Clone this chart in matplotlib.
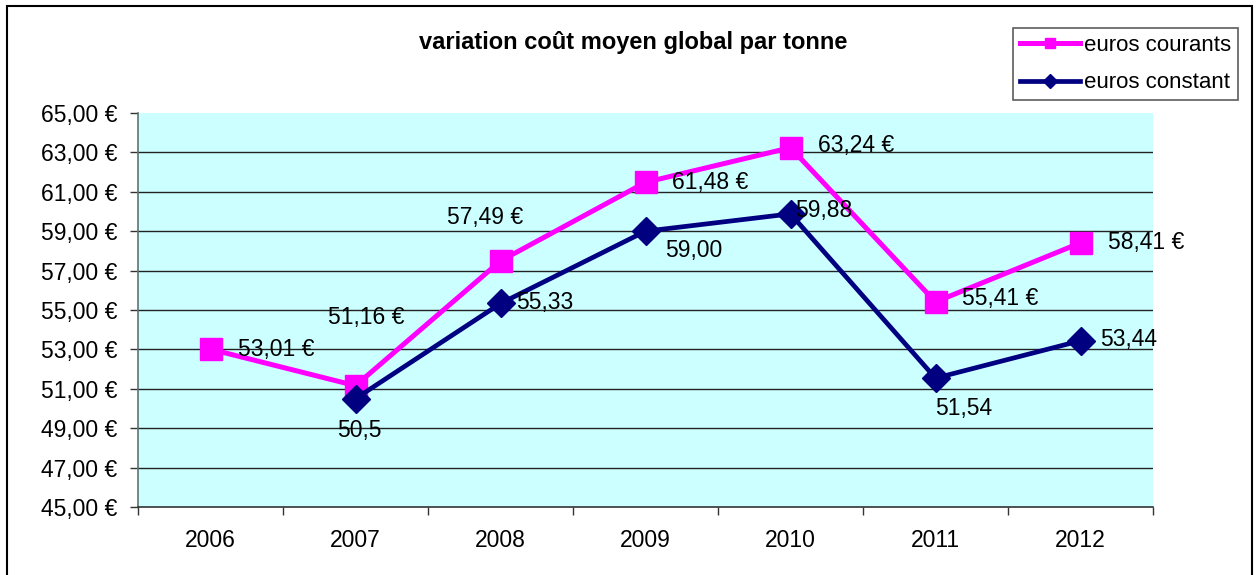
import matplotlib
matplotlib.use("Agg")
import matplotlib.pyplot as plt
from matplotlib.patches import Rectangle
from matplotlib.ticker import FixedLocator, FuncFormatter

plt.rcParams['font.family'] = ['Liberation Sans', 'DejaVu Sans']

years = ["2006", "2007", "2008", "2009", "2010", "2011", "2012"]
courants = [53.01, 51.16, 57.49, 61.48, 63.24, 55.41, 58.41]
constant = [None, 50.5, 55.33, 59.00, 59.88, 51.54, 53.44]
constant_labels = [None, "50,5", "55,33", "59,00", "59,88", "51,54", "53,44"]
yticks = [45, 47, 49, 51, 53, 55, 57, 59, 61, 63, 65]

W, H = 1257, 575
fig = plt.figure(figsize=(W / 100, H / 100), dpi=100)
fig.patch.set_facecolor("white")

L, R, T, B = 138, 1153, 113, 507
ax = fig.add_axes([L / W, (H - B) / H, (R - L) / W, (B - T) / H])
ax.set_facecolor("#CCFFFF")

xs = list(range(len(years)))
ax.set_xlim(-0.5, len(years) - 0.5)
ax.set_ylim(45, 65)

for v in yticks[1:-1]:
    ax.axhline(v, color="#222222", lw=1.0, zorder=1)

for s in ["top", "right"]:
    ax.spines[s].set_visible(False)
ax.spines["left"].set_color("#5f7373")
ax.spines["left"].set_linewidth(1.2)
ax.spines["bottom"].set_color("#333333")
ax.spines["bottom"].set_linewidth(1.2)

ax.yaxis.set_major_locator(FixedLocator(yticks))
ax.yaxis.set_major_formatter(FuncFormatter(lambda v, p: f"{v:.2f}".replace(".", ",") + " €"))
ax.tick_params(axis="y", length=6, width=1, color="#333333", pad=9, labelsize=16.5, labelcolor="black")

ax.set_xticks(xs)
ax.set_xticklabels(years)
ax.set_xticks([x - 0.5 for x in range(len(years) + 1)], minor=True)
ax.tick_params(axis="x", which="major", length=0, pad=16, labelsize=16.5, labelcolor="black")
ax.tick_params(axis="x", which="minor", length=6, width=1, color="#333333")

ln1, = ax.plot(xs, courants, color="#FF00FF", lw=3.6, marker="s", markersize=15.5,
               label="euros courants", zorder=3, clip_on=False)
cx = [x for x, v in zip(xs, constant) if v is not None]
cy = [v for v in constant if v is not None]
ln2, = ax.plot(cx, cy, color="#000080", lw=3.4, marker="D", markersize=14,
               label="euros constant", zorder=4, clip_on=False)

# label offsets in pixels (dx, dy, ha)
off1 = [(27, 0, "left"), (11, 68, "center"), (-15, 43, "center"), (27, 0, "left"),
        (28, 2, "left"), (27, 3, "left"), (28, 0, "left")]
for x, v, (dx, dy, ha) in zip(xs, courants, off1):
    ax.annotate(f"{v:.2f}".replace(".", ",") + " €", (x, v), xytext=(dx * 0.72, dy * 0.72),
                textcoords="offset points", ha=ha, va="center", fontsize=16.5, zorder=5)

off2 = [None, (4, -32, "center"), (16, 1, "left"), (20, -19, "left"), (5, 3, "left"),
        (0, -30, "left"), (20, 1, "left")]
for x, v, lab, o in zip(xs, constant, constant_labels, off2):
    if v is None:
        continue
    dx, dy, ha = o
    ax.annotate(lab, (x, v), xytext=(dx * 0.72, dy * 0.72), textcoords="offset points",
                ha=ha, va="center", fontsize=16.5, zorder=5)

fig.text(633 / W, 1 - 42 / H, "variation coût moyen global par tonne", ha="center", va="center",
         fontsize=17, fontweight="bold")

leg = fig.legend(handles=[ln1, ln2], loc="center",
                 bbox_to_anchor=(1012 / W, 1 - 102 / H, (1239 - 1012) / W, (102 - 26) / H),
                 frameon=True, fancybox=False, fontsize=16, handlelength=2.7,
                 handletextpad=0.2, borderpad=0.3, labelspacing=0.75, markerscale=0.5,
                 borderaxespad=0)
leg.get_frame().set_edgecolor("#333333")
leg.get_frame().set_linewidth(1.2)

fig.patches.append(Rectangle((7 / W, -0.02), (1252 - 7) / W, 1 - 6 / H + 0.02,
                             transform=fig.transFigure, fill=False, edgecolor="black", lw=1.5))

fig.savefig("out.png", dpi=100)
